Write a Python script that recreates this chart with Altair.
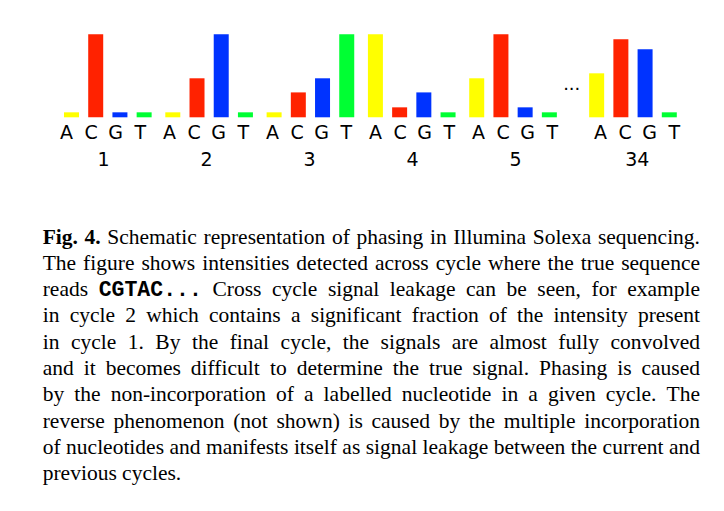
import altair as alt
import pandas as pd

# ---------------- data ----------------
cycles = ["1", "2", "3", "4", "5", "34"]
bases = ["A", "C", "G", "T"]
base_colors = ["#ffff00", "#ff2200", "#0033ff", "#00ff33"]
intensity_A = [0.06, 0.06, 0.06, 1.00, 0.47, 0.53]
intensity_C = [1.00, 0.47, 0.30, 0.12, 1.00, 0.94]
intensity_G = [0.06, 1.00, 0.47, 0.30, 0.12, 0.82]
intensity_T = [0.06, 0.06, 1.00, 0.06, 0.06, 0.06]

caption_lines = [
    "Fig. 4. Schematic representation of phasing in Illumina Solexa sequencing.",
    "The figure shows intensities detected across cycle where the true sequence",
    "reads CGTAC... Cross cycle signal leakage can be seen, for example",
    "in cycle 2 which contains a significant fraction of the intensity present",
    "in cycle 1. By the final cycle, the signals are almost fully convolved",
    "and it becomes difficult to determine the true signal. Phasing is caused",
    "by the non-incorporation of a labelled nucleotide in a given cycle. The",
    "reverse phenomenon (not shown) is caused by the multiple incorporation",
    "of nucleotides and manifests itself as signal leakage between the current and",
    "previous cycles.",
]
bold_words = {(0, 0), (0, 1)}
mono_words = {"CGTAC..."}

# ---------------- layout ----------------
ELLIPSIS_GAP = 0.184   # extra spacing (in group units) before the last cycle group
BASE_STEP = 0.239      # spacing of bars within a group (group units)
group_pos = [float(i) for i in range(5)] + [5 + ELLIPSIS_GAP]

rows = []
series = [intensity_A, intensity_C, intensity_G, intensity_T]
for gi, cyc in enumerate(cycles):
    for bi, b in enumerate(bases):
        rows.append({"cycle": cyc, "base": b, "value": series[bi][gi],
                     "pos": group_pos[gi] + bi * BASE_STEP})
bars_df = pd.DataFrame(rows)
groups_df = pd.DataFrame({"cycle": cycles,
                          "pos": [g + 1.5 * BASE_STEP for g in group_pos]})
dots_df = pd.DataFrame({"t": ["..."], "pos": [4.905]})

xscale = alt.Scale(domain=[0, 5 + ELLIPSIS_GAP + 3 * BASE_STEP], range=[66.5, 674.3])
yscale = alt.Scale(domain=[0, 1], range=[117.3, 34.3])

X = alt.X("pos:Q", scale=xscale, axis=None)

bars = alt.Chart(bars_df).mark_bar(size=15).encode(
    x=X,
    y=alt.Y("value:Q", scale=yscale, axis=None),
    color=alt.Color("base:N", scale=alt.Scale(domain=bases, range=base_colors), legend=None),
)
base_labels = alt.Chart(bars_df).mark_text(
    font="DejaVu Sans", fontSize=19, baseline="alphabetic", align="center", color="#000000"
).encode(x=X, y=alt.value(138.5), text="base:N")
cycle_labels = alt.Chart(groups_df).mark_text(
    font="DejaVu Sans", fontSize=19, baseline="alphabetic", align="center", color="#000000"
).encode(x=X, y=alt.value(165.7), text="cycle:N")
dots = alt.Chart(dots_df).mark_text(
    font="DejaVu Sans", fontSize=18, baseline="alphabetic", align="center", color="#000000"
).encode(x=X, y=alt.value(90), text="t:N")

# ---------------- caption (justified text) ----------------
W_REG = {" ": 250, ".": 250, ",": 250, "-": 333, "(": 333, ")": 333}
W_REG.update({d: 500 for d in "0123456789"})
W_REG.update(dict(zip("abcdefghijklmnopqrstuvwxyz",
    [444, 500, 444, 500, 444, 333, 500, 500, 278, 278, 500, 278, 778, 500, 500, 500, 500,
     333, 389, 278, 500, 500, 722, 500, 500, 444])))
W_REG.update(dict(zip("ABCDEFGHIJKLMNOPQRSTUVWXYZ",
    [722, 667, 667, 722, 611, 556, 722, 722, 333, 389, 722, 611, 889, 722, 722, 556, 722,
     667, 556, 611, 722, 722, 944, 722, 722, 611])))
W_BOLD = {"F": 611, "i": 278, "g": 500, ".": 250, "4": 500}

FS = 21.5
LEFT, RIGHT = 42.7, 700.0
TOP_BASELINE, LEADING = 243.5, 26.3


def width(word, kind):
    if kind == "mono":
        return len(word) * 600 * FS / 1000
    table = W_BOLD if kind == "bold" else W_REG
    return sum(table.get(c, 500) for c in word) * FS / 1000


words = []
for li, line in enumerate(caption_lines):
    toks = line.split(" ")
    kinds = []
    for wi, t in enumerate(toks):
        if (li, wi) in bold_words:
            kinds.append("bold")
        elif t in mono_words:
            kinds.append("mono")
        else:
            kinds.append("reg")
    widths = [width(t, k) for t, k in zip(toks, kinds)]
    if li == len(caption_lines) - 1:
        gap = 250 * FS / 1000
    else:
        gap = (RIGHT - LEFT - sum(widths)) / (len(toks) - 1)
    x = LEFT
    for t, k, w in zip(toks, kinds, widths):
        words.append({"w": t, "kind": k, "x": x, "y": TOP_BASELINE + li * LEADING})
        x += w + gap
words_df = pd.DataFrame(words)


def cap_layer(kind, font, weight):
    return alt.Chart(words_df).transform_filter(
        alt.datum.kind == kind
    ).mark_text(
        font=font, fontSize=FS, fontWeight=weight, baseline="alphabetic", align="left",
        color="#000000"
    ).encode(
        x=alt.X("x:Q", scale=None, axis=None),
        y=alt.Y("y:Q", scale=None, axis=None),
        text="w:N",
    )


cap_reg = cap_layer("reg", "Liberation Serif", "normal")
cap_bold = cap_layer("bold", "Liberation Serif", "bold")
cap_mono = cap_layer("mono", "Liberation Mono", "bold")

chart = alt.layer(
    bars, base_labels, cycle_labels, dots, cap_reg, cap_bold, cap_mono
).resolve_scale(
    x="independent", y="independent"
).properties(
    width=724, height=511, padding=0, autosize=alt.AutoSizeParams(type="none"),
    background="white",
).configure_view(stroke=None)

chart.save("out.html", embed_options={"renderer": "svg", "actions": False})
